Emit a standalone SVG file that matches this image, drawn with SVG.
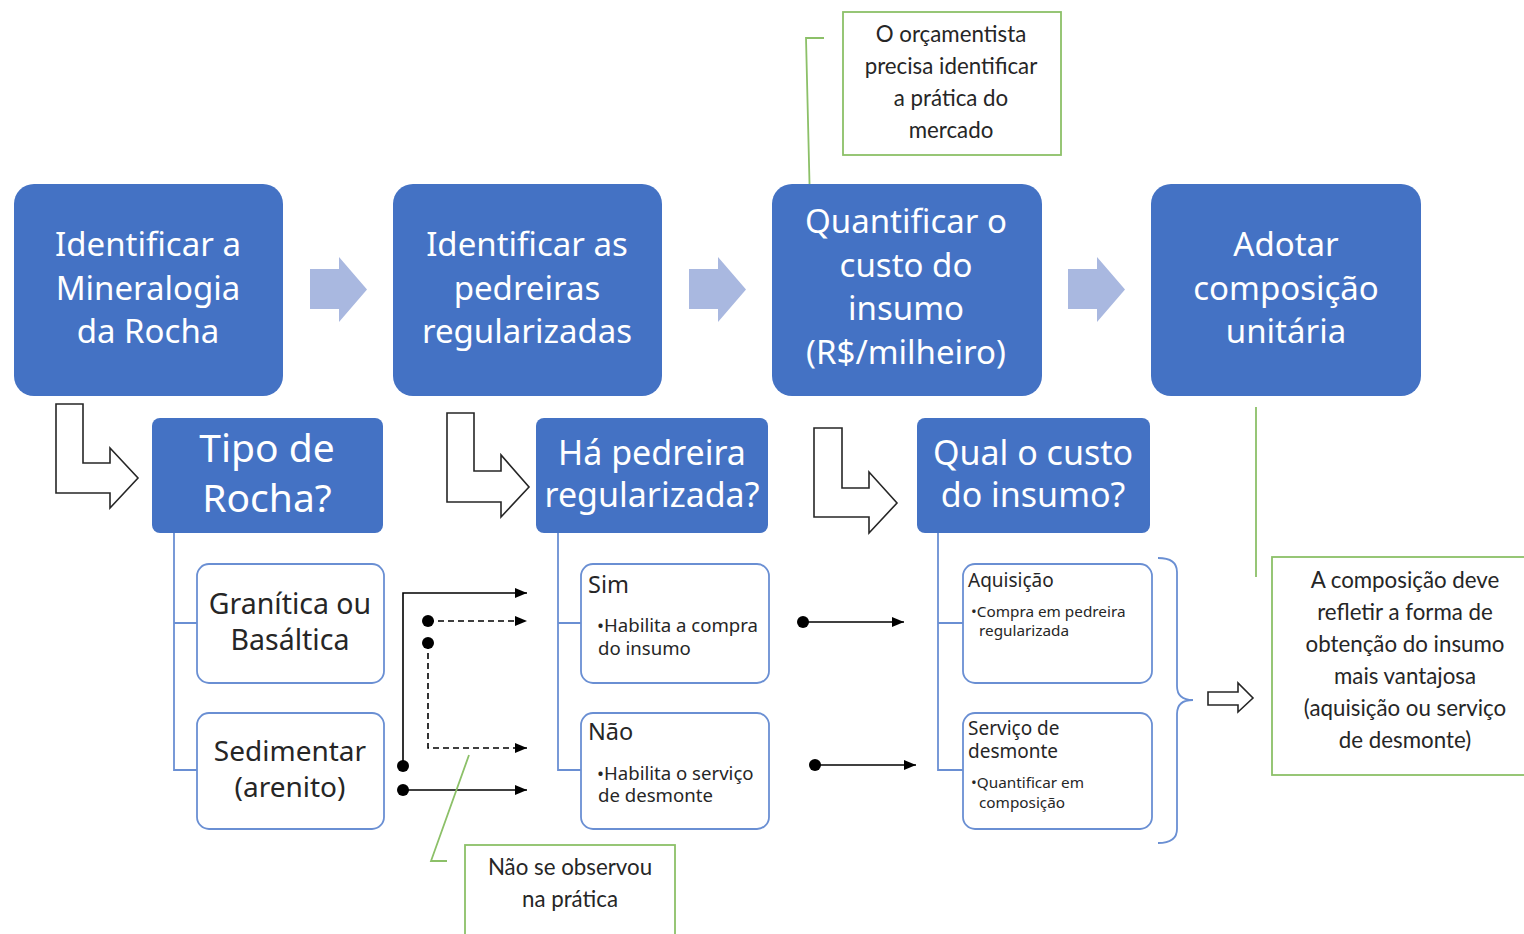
<svg xmlns="http://www.w3.org/2000/svg" width="1524" height="934" viewBox="0 0 1524 934">
<defs>
<style>
.main{fill:#4472C4}
.big{font-family:"Noto Sans","Open Sans",sans-serif;font-size:33px;fill:#fff;text-anchor:middle}
.q{font-family:"Noto Sans","Open Sans",sans-serif;fill:#fff;text-anchor:middle}
.sub{fill:#fff;stroke:#6A8FD3;stroke-width:1.8}
.subt{font-family:"Noto Sans","Open Sans",sans-serif;fill:#262626}
.tree{fill:none;stroke:#6A8FD3;stroke-width:1.8}
.flow{fill:#A9B8E0}
.lar{fill:#fff;stroke:#262626;stroke-width:1.6;stroke-linejoin:miter}
.note{fill:#fff;stroke:#8CC068;stroke-width:1.8}
.lead{fill:none;stroke:#8CC068;stroke-width:1.8}
.nt{font-family:Lato,"Liberation Sans",sans-serif;font-size:22.3px;fill:#262626;text-anchor:middle}
.con{fill:none;stroke:#000;stroke-width:1.6}
.dash{stroke-dasharray:6 4}
</style>
<marker id="ah" viewBox="0 0 12 10" refX="12" refY="5" markerWidth="12" markerHeight="10" markerUnits="userSpaceOnUse" orient="auto">
<path d="M0,0 L12,5 L0,10 z" fill="#000"/>
</marker>
</defs>
<rect width="1524" height="934" fill="#fff"/>

<g id="flow-arrows">
<polygon class="flow" points="310,269 339,269 339,257 367,289.5 339,322 339,309 310,309"/>
<polygon class="flow" points="689,269 718,269 718,257 746,289.5 718,322 718,309 689,309"/>
<polygon class="flow" points="1068,269 1097,269 1097,257 1125,289.5 1097,322 1097,309 1068,309"/>
</g>

<g id="connectors">
<polygon class="lar" points="56,404 83,404 83,463 110,463 110,448 138,478 110,508 110,493 56,493"/>
<polygon class="lar" points="447,413 474,413 474,471 501,471 501,455 529,487 501,517 501,502 447,502"/>
<polygon class="lar" points="814,428 842,428 842,488 869,488 869,472 897,503 869,533 869,517 814,517"/>
<path class="tree" d="M174,533 V770 H197 M174,623 H197"/>
<path class="tree" d="M558,533 V770 H581 M558,623 H581"/>
<path class="tree" d="M938,533 V770 H963 M938,623 H963"/>
<path class="con" d="M403,766 V593 H527" marker-end="url(#ah)"/>
<path class="con dash" d="M428,621 H527" marker-end="url(#ah)"/>
<path class="con dash" d="M428,643 V748 H527" marker-end="url(#ah)"/>
<path class="con" d="M403,790 H527" marker-end="url(#ah)"/>
<path class="con" d="M803,622 H904" marker-end="url(#ah)"/>
<path class="con" d="M815,765 H916" marker-end="url(#ah)"/>
<circle cx="403" cy="766" r="6"/>
<circle cx="428" cy="621" r="6"/>
<circle cx="428" cy="643" r="6"/>
<circle cx="403" cy="790" r="6"/>
<circle cx="803" cy="622" r="6"/>
<circle cx="815" cy="765" r="6"/>
<path class="tree" d="M1158,558 Q1177,558 1177,572 V686 Q1177,700 1193,700 Q1177,700 1177,714 V829 Q1177,843 1158,843"/>
<polygon class="lar" points="1208,692 1238,692 1238,683 1253,698 1238,712 1238,705 1208,705"/>
<path class="lead" d="M824,38 H806 L810,204"/>
<path class="lead" d="M1256,407 V577"/>
<path class="lead" d="M469,755 L431,861 H447"/>
</g>

<g id="box1">
<rect class="main" x="14" y="184" width="269" height="212" rx="20"/>
<text class="big" x="148" y="256">Identificar a</text>
<text class="big" x="148" y="299.5">Mineralogia</text>
<text class="big" x="148" y="343">da Rocha</text>
</g>
<g id="box2">
<rect class="main" x="393" y="184" width="269" height="212" rx="20"/>
<text class="big" x="527" y="256">Identificar as</text>
<text class="big" x="527" y="299.5">pedreiras</text>
<text class="big" x="527" y="343">regularizadas</text>
</g>
<g id="box3">
<rect class="main" x="772" y="184" width="270" height="212" rx="20"/>
<text class="big" x="906" y="233" font-size="33.6">Quantificar o</text>
<text class="big" x="906" y="276.5" font-size="33.6">custo do</text>
<text class="big" x="906" y="320" font-size="33.6">insumo</text>
<text class="big" x="906" y="363.5" font-size="33.6">(R$/milheiro)</text>
</g>
<g id="box4">
<rect class="main" x="1151" y="184" width="270" height="212" rx="20"/>
<text class="big" x="1286" y="256">Adotar</text>
<text class="big" x="1286" y="299.5">composição</text>
<text class="big" x="1286" y="343">unitária</text>
</g>

<g id="q1">
<rect class="main" x="152" y="418" width="231" height="115" rx="8"/>
<text class="q" x="267" y="462" font-size="39">Tipo de</text>
<text class="q" x="267" y="512" font-size="39">Rocha?</text>
</g>
<g id="q2">
<rect class="main" x="536" y="418" width="232" height="115" rx="8"/>
<text class="q" x="652" y="465" font-size="34">Há pedreira</text>
<text class="q" x="652" y="507" font-size="34">regularizada?</text>
</g>
<g id="q3">
<rect class="main" x="917" y="418" width="233" height="115" rx="8"/>
<text class="q" x="1033" y="465" font-size="34">Qual o custo</text>
<text class="q" x="1033" y="507" font-size="34">do insumo?</text>
</g>

<g id="granitica">
<rect class="sub" x="197" y="564" width="187" height="119" rx="12"/>
<text class="subt" x="290" y="614" font-size="28.5" text-anchor="middle">Granítica ou</text>
<text class="subt" x="290" y="650" font-size="28.5" text-anchor="middle">Basáltica</text>
</g>
<g id="sedimentar">
<rect class="sub" x="197" y="713" width="187" height="116" rx="12"/>
<text class="subt" x="290" y="761" font-size="28" text-anchor="middle">Sedimentar</text>
<text class="subt" x="290" y="797" font-size="28" text-anchor="middle">(arenito)</text>
</g>
<g id="sim">
<rect class="sub" x="581" y="564" width="188" height="119" rx="12"/>
<text class="subt" x="588" y="593" font-size="23.5">Sim</text>
<text class="subt" x="597" y="632" font-size="18.6">•Habilita a compra</text>
<text class="subt" x="598" y="655" font-size="18.6">do insumo</text>
</g>
<g id="nao">
<rect class="sub" x="581" y="713" width="188" height="116" rx="12"/>
<text class="subt" x="588" y="740" font-size="23.5">Não</text>
<text class="subt" x="597" y="780" font-size="18.6">•Habilita o serviço</text>
<text class="subt" x="598" y="802" font-size="18.6">de desmonte</text>
</g>
<g id="aquisicao">
<rect class="sub" x="963" y="564" width="189" height="119" rx="12"/>
<text class="subt" x="968" y="587" font-size="19">Aquisição</text>
<text class="subt" x="971" y="617" font-size="15.3">•Compra em pedreira</text>
<text class="subt" x="979" y="636" font-size="15.3">regularizada</text>
</g>
<g id="servico">
<rect class="sub" x="963" y="713" width="189" height="116" rx="12"/>
<text class="subt" x="968" y="735" font-size="19">Serviço de</text>
<text class="subt" x="968" y="758" font-size="19">desmonte</text>
<text class="subt" x="971" y="788" font-size="15.3">•Quantificar em</text>
<text class="subt" x="979" y="808" font-size="15.3">composição</text>
</g>

<g id="note-top">
<rect class="note" x="843" y="12" width="218" height="143"/>
<text class="nt" x="951" y="42">O orçamentista</text>
<text class="nt" x="951" y="74">precisa identificar</text>
<text class="nt" x="951" y="106">a prática do</text>
<text class="nt" x="951" y="138">mercado</text>
</g>
<g id="note-right">
<rect class="note" x="1272" y="557" width="270" height="218"/>
<text class="nt" x="1405" y="588">A composição deve</text>
<text class="nt" x="1405" y="620">refletir a forma de</text>
<text class="nt" x="1405" y="652">obtenção do insumo</text>
<text class="nt" x="1405" y="684">mais vantajosa</text>
<text class="nt" x="1405" y="716">(aquisição ou serviço</text>
<text class="nt" x="1405" y="748">de desmonte)</text>
</g>
<g id="note-bottom">
<rect class="note" x="465" y="845" width="210" height="110"/>
<text class="nt" x="570" y="875">Não se observou</text>
<text class="nt" x="570" y="907">na prática</text>
</g>
</svg>
